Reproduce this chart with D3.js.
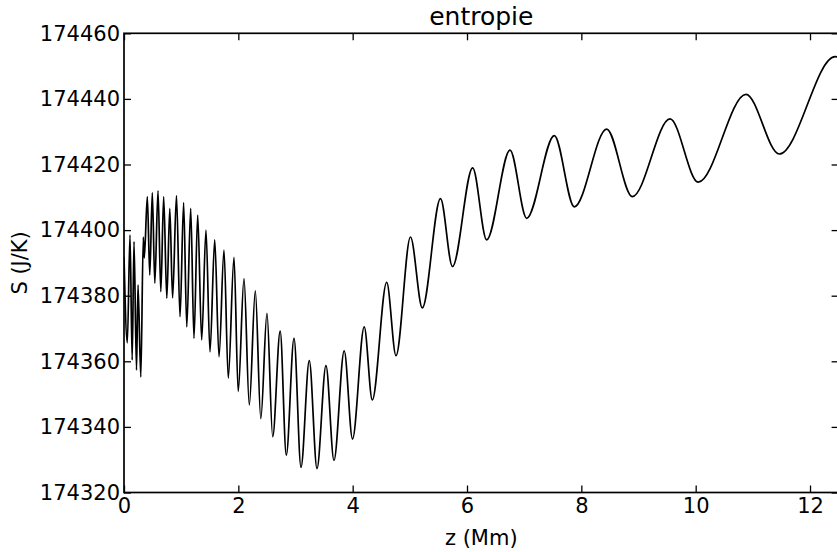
<!DOCTYPE html>
<html>
<head>
<meta charset="utf-8">
<script src="https://cdn.jsdelivr.net/npm/d3@7"></script>
<style>
  html, body { margin: 0; padding: 0; background: #fff; }
  svg { display: block; font-family: "DejaVu Sans", sans-serif; }
</style>
</head>
<body>
<svg id="chart" width="837" height="552"></svg>
<script>
// Height z (Mm) and entropy S (J/K) sampled at the turning points of the profile
const zValues = [
  0.000, 0.058, 0.105, 0.143, 0.175, 0.219, 0.245, 0.294, 0.338, 0.355,
  0.408, 0.451, 0.495, 0.539, 0.595, 0.644, 0.694, 0.749, 0.801, 0.850,
  0.918, 0.980, 1.043, 1.098, 1.167, 1.224, 1.289, 1.359, 1.434, 1.504,
  1.587, 1.662, 1.749, 1.824, 1.924, 1.998, 2.099, 2.192, 2.297, 2.393,
  2.501, 2.601, 2.732, 2.839, 2.974, 3.096, 3.241, 3.376, 3.533, 3.673,
  3.852, 3.997, 4.202, 4.343, 4.595, 4.758, 5.011, 5.218, 5.536, 5.746,
  6.099, 6.344, 6.752, 7.044, 7.527, 7.877, 8.443, 8.891, 9.551, 10.045,
  10.880, 11.462, 12.437, 12.500
];
const sValues = [
  174391.8, 174365.6, 174398.5, 174360.4, 174396.5, 174357.3, 174383.3, 174355.2, 174397.9, 174391.5,
  174410.2, 174386.3, 174411.4, 174383.8, 174412.0, 174381.2, 174410.2, 174379.2, 174406.6, 174379.3,
  174410.5, 174373.6, 174408.4, 174370.5, 174406.6, 174367.0, 174404.6, 174366.5, 174400.0, 174362.9,
  174397.0, 174361.4, 174393.9, 174354.9, 174391.7, 174350.8, 174385.2, 174346.7, 174381.5, 174342.5,
  174374.6, 174337.0, 174369.2, 174331.4, 174367.0, 174327.7, 174360.2, 174327.3, 174358.7, 174329.8,
  174363.2, 174336.3, 174370.5, 174348.2, 174384.1, 174361.7, 174397.9, 174376.3, 174409.6, 174388.9,
  174419.0, 174397.0, 174424.4, 174403.6, 174428.8, 174407.1, 174430.8, 174410.2, 174433.9, 174414.6,
  174441.4, 174423.2, 174452.9, 174452.7
];

const xTicks = [0, 2, 4, 6, 8, 10, 12];
const yTicks = [174320, 174340, 174360, 174380, 174400, 174420, 174440, 174460];

const titleText = "entropie";
const xLabelText = "z (Mm)";
const yLabelText = "S (J/K)";

const plot = { left: 124, right: 838.6, top: 33.3, bottom: 492.5 };
const tickLen = 7;
const fontSize = 21;

const svg = d3.select("#chart");

const x = d3.scaleLinear().domain([0, 12.5]).range([plot.left, plot.right]);
const y = d3.scaleLinear().domain([174320, 174460]).range([plot.bottom, plot.top]);

const points = zValues.map((z, i) => ({ z, s: sValues[i] }));

// Clip the curve to the axes box
svg.append("defs").append("clipPath").attr("id", "plot-clip")
  .append("rect")
  .attr("x", plot.left).attr("y", plot.top)
  .attr("width", plot.right - plot.left).attr("height", plot.bottom - plot.top);

const line = d3.line()
  .x(d => x(d.z))
  .y(d => y(d.s))
  .curve(d3.curveMonotoneX);

svg.append("path")
  .datum(points)
  .attr("clip-path", "url(#plot-clip)")
  .attr("fill", "none")
  .attr("stroke", "#000")
  .attr("stroke-width", 1.7)
  .attr("stroke-linejoin", "round")
  .attr("d", line);

// Axes: ticks point inward on all four sides
function styleAxis(g, showLabels) {
  g.select(".domain").remove();
  g.selectAll(".tick line").attr("stroke", "#000").attr("stroke-width", 1.3);
  g.selectAll(".tick text")
    .attr("fill", "#000")
    .style("font-size", fontSize + "px")
    .style("font-family", "DejaVu Sans, sans-serif");
  if (!showLabels) g.selectAll(".tick text").remove();
}

svg.append("g")
  .attr("transform", `translate(0,${plot.bottom})`)
  .call(d3.axisBottom(x).tickValues(xTicks).tickFormat(d3.format("d"))
    .tickSizeInner(-tickLen).tickSizeOuter(0).tickPadding(6))
  .call(g => styleAxis(g, true));

svg.append("g")
  .attr("transform", `translate(0,${plot.top})`)
  .call(d3.axisTop(x).tickValues(xTicks)
    .tickSizeInner(-tickLen).tickSizeOuter(0))
  .call(g => styleAxis(g, false));

svg.append("g")
  .attr("transform", `translate(${plot.left},0)`)
  .call(d3.axisLeft(y).tickValues(yTicks).tickFormat(d3.format("d"))
    .tickSizeInner(-tickLen).tickSizeOuter(0).tickPadding(4))
  .call(g => styleAxis(g, true));

svg.append("g")
  .attr("transform", `translate(${plot.right},0)`)
  .call(d3.axisRight(y).tickValues(yTicks)
    .tickSizeInner(-tickLen).tickSizeOuter(0))
  .call(g => styleAxis(g, false));

// Frame
svg.append("rect")
  .attr("x", plot.left).attr("y", plot.top)
  .attr("width", plot.right - plot.left).attr("height", plot.bottom - plot.top)
  .attr("fill", "none").attr("stroke", "#000").attr("stroke-width", 1.7);

const cx = (plot.left + plot.right) / 2;

svg.append("text")
  .attr("x", cx).attr("y", 25)
  .attr("text-anchor", "middle")
  .style("font-size", "25px")
  .text(titleText);

svg.append("text")
  .attr("x", cx).attr("y", 545)
  .attr("text-anchor", "middle")
  .style("font-size", fontSize + "px")
  .text(xLabelText);

svg.append("text")
  .attr("transform", `translate(27,${(plot.top + plot.bottom) / 2}) rotate(-90)`)
  .attr("text-anchor", "middle")
  .style("font-size", fontSize + "px")
  .text(yLabelText);
</script>
</body>
</html>
